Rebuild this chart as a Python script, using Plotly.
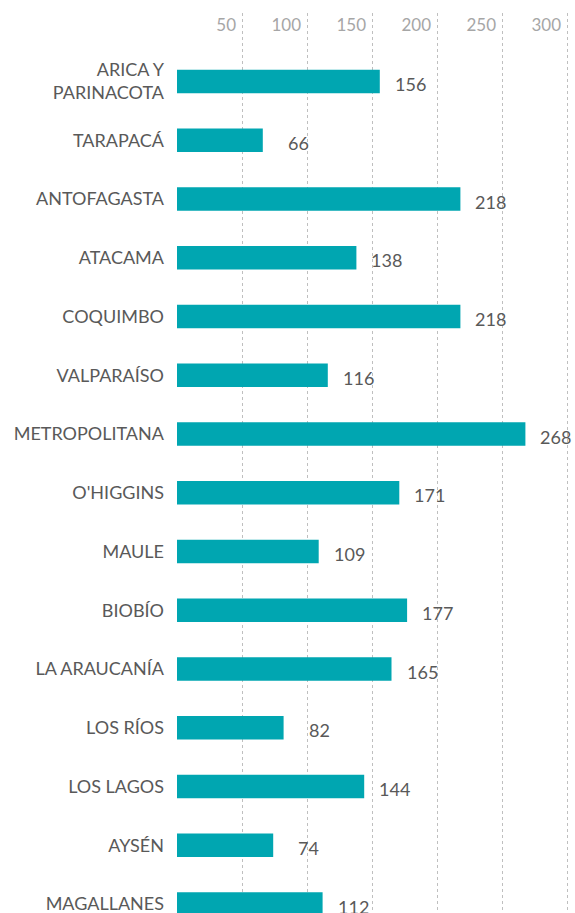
import plotly.graph_objects as go

regions = ["ARICA Y<br>PARINACOTA", "TARAPACÁ", "ANTOFAGASTA", "ATACAMA", "COQUIMBO",
           "VALPARAÍSO", "METROPOLITANA", "O'HIGGINS", "MAULE", "BIOBÍO",
           "LA ARAUCANÍA", "LOS RÍOS", "LOS LAGOS", "AYSÉN", "MAGALLANES"]
values = [156, 66, 218, 138, 218, 116, 268, 171, 109, 177, 165, 82, 144, 74, 112]
tick_vals = [50, 100, 150, 200, 250, 300]
tick_text = ["50", "100", "150", "200", "250", "300"]

BAR = "#00A6B1"
DARK = "#595959"
LIGHT = "#A6A6A6"
FONT = "Lato"

fig = go.Figure()
fig.add_trace(go.Bar(
    y=regions, x=values, orientation="h",
    marker=dict(color=BAR, line=dict(width=0)),
    width=0.4, hoverinfo="skip",
))

for r, v in zip(regions, values):
    fig.add_annotation(
        x=v, y=r, xref="x", yref="y", text=str(v), showarrow=False,
        xanchor="right", yanchor="middle", xshift=48, yshift=-2.5,
        font=dict(family=FONT, size=18, color=DARK),
    )

fig.update_layout(
    width=575, height=913,
    margin=dict(l=177, r=0, t=13, b=0),
    paper_bgcolor="white", plot_bgcolor="white",
    showlegend=False,
    font=dict(family=FONT, size=18, color=DARK),
    xaxis=dict(
        side="top", range=[0, 306.15],
        tickvals=tick_vals, ticktext=tick_text,
        ticklabelposition="inside left", ticklabelshift=-6,
        tickfont=dict(family=FONT, size=17, color=LIGHT),
        showgrid=True, gridcolor="#BFBFBF", griddash="dot", gridwidth=1,
        zeroline=False, showline=False, ticks="",
    ),
    yaxis=dict(
        type="category", categoryorder="array", categoryarray=regions,
        range=[14.153, -1.166],
        tickfont=dict(family=FONT, size=18, color=DARK),
        showgrid=False, zeroline=False, showline=False, ticks="",
        ticklabelstandoff=12,
    ),
)

fig.write_html(
    "out.html",
    config={"displayModeBar": False},
    post_script="document.body.style.margin='0';document.body.style.overflow='hidden';",
)
